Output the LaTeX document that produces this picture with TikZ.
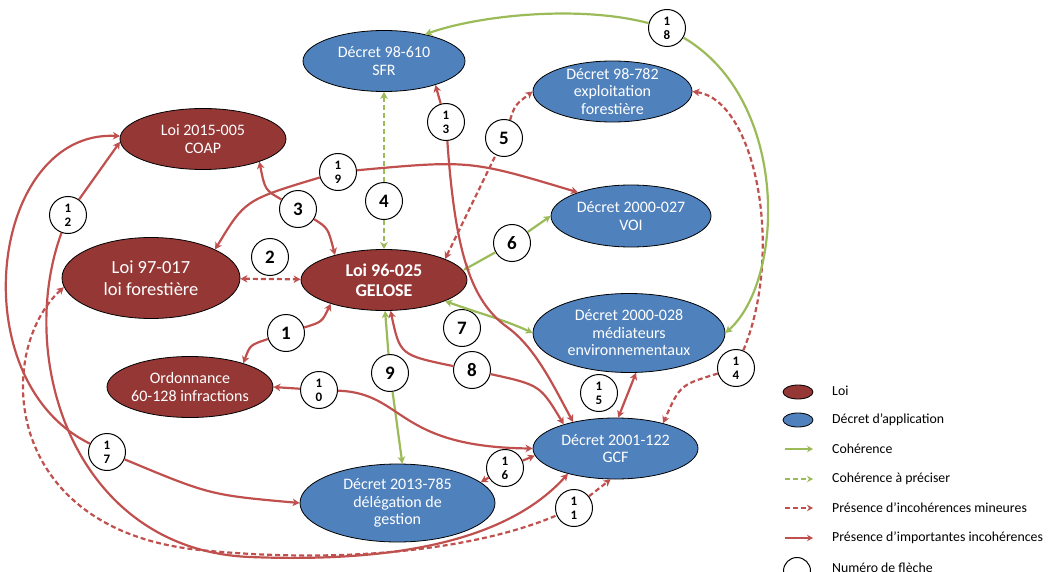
\documentclass[tikz,border=0pt]{standalone}
\usepackage{fontspec}
\setmainfont{Carlito}
\newfontfamily\numfont{Carlito}
\usetikzlibrary{shapes.geometric,arrows.meta}
\definecolor{loired}{RGB}{149,55,53}
\definecolor{decblue}{RGB}{79,129,189}
\definecolor{redline}{RGB}{192,80,77}
\definecolor{greenline}{RGB}{155,187,89}

\begin{document}
\begin{tikzpicture}
  [x=1pt,y=-1pt,
   loi/.style={ellipse,draw=black,line width=0.8pt,fill=loired,text=white,inner xsep=-4pt,inner ysep=-4pt,align=center,font=\fontsize{16}{17.5}\selectfont},
   decret/.style={loi,fill=decblue},
   num/.style={circle,draw=black,line width=1pt,fill=white,minimum size=37pt,inner sep=0pt,align=center,font=\numfont\bfseries\fontsize{19}{19}\selectfont},
   numb/.style={num,font=\numfont\bfseries\fontsize{13}{14}\selectfont},
   link/.style={line width=2.2pt,{Stealth[length=7pt,width=7.5pt,inset=2pt]}-{Stealth[length=7pt,width=7.5pt,inset=2pt]}},
   tipstart/.style={{Stealth[length=7pt,width=7.5pt,inset=2pt]}-},
   tipend/.style={-{Stealth[length=7pt,width=7.5pt,inset=2pt]}},
   onehead/.style={line width=2.2pt,-{Stealth[length=6pt,width=6.5pt,inset=2pt]}},
   coh/.style={link,draw=greenline},
   cohp/.style={coh,dash pattern=on 5pt off 3pt},
   inc/.style={link,draw=redline},
   incm/.style={inc,dash pattern=on 5pt off 3pt},
   legtext/.style={anchor=west,inner sep=0pt,font=\fontsize{13.8}{15}\selectfont}]

  \useasboundingbox (0,0) rectangle (1051,572);

  % lois et decrets
  \node[decret,minimum width=162pt,minimum height=61pt] (sfr) at (384,61) {Décret 98-610\\SFR};
  \node[decret,minimum width=159pt,minimum height=61pt,inner ysep=-7pt] (expl) at (612.5,91.5) {Décret 98-782\\exploitation\\forestière};
  \node[loi,minimum width=166pt,minimum height=61pt] (coap) at (203,139) {Loi 2015-005\\COAP};
  \node[decret,minimum width=160pt,minimum height=62pt] (voi) at (631,216) {Décret 2000-027\\VOI};
  \node[loi,minimum width=178pt,minimum height=81pt,font=\fontsize{18.5}{22}\selectfont] (lf) at (151,278) {Loi 97-017\\loi forestière};
  \node[loi,minimum width=166pt,minimum height=61pt,font=\bfseries\fontsize{18}{20}\selectfont] (gelose) at (384,280) {Loi 96-025\\GELOSE};
  \node[decret,minimum width=192pt,minimum height=79pt] (med) at (629,333) {Décret 2000-028\\médiateurs\\environnementaux};
  \node[loi,minimum width=166pt,minimum height=61pt] (ord) at (190,387) {Ordonnance\\60-128 infractions};
  \node[decret,minimum width=165pt,minimum height=61pt] (gcf) at (615.5,448.5) {Décret 2001-122\\GCF};
  \node[decret,minimum width=195pt,minimum height=78pt] (del) at (397.5,503) {Décret 2013-785\\délégation de\\gestion};

  % numeros de fleche
  \node[num] (n1) at (286,333) {1};
  \node[num] (n2) at (270,257) {2};
  \node[num] (n3) at (298,209) {3};
  \node[num] (n4) at (384,201) {4};
  \node[num] (n5) at (504,138) {5};
  \node[num] (n6) at (512,243) {6};
  \node[num] (n7) at (462,328) {7};
  \node[num] (n8) at (472,370) {8};
  \node[num] (n9) at (390,373) {9};
  \node[numb] (n10) at (319,390) {1\\0};
  \node[numb] (n11) at (574,508) {1\\1};
  \node[numb] (n12) at (68,215) {1\\2};
  \node[numb] (n13) at (446,122) {1\\3};
  \node[numb] (n14) at (736,368) {1\\4};
  \node[numb] (n15) at (599,393) {1\\5};
  \node[numb] (n16) at (505,468) {1\\6};
  \node[numb] (n17) at (107,452) {1\\7};
  \node[numb] (n18) at (667,28) {1\\8};
  \node[numb] (n19) at (338,172) {1\\9};

  % fleches (chaque fleche passe par son numero)
  \draw[inc,tipstart] (ord.24) .. controls (250,345) .. (n1);
  \draw[inc,tipend] (n1) .. controls (322,322) .. (gelose.204);
  \draw[incm] (lf) -- (gelose);
  \draw[inc,tipstart] (coap.-22) .. controls (265,190) .. (n3);
  \draw[inc,tipend] (n3) .. controls (328,228) .. (gelose.153);
  \draw[cohp,tipstart] (sfr) -- (n4);
  \draw[cohp,tipend] (n4) -- (gelose);
  \draw[incm,tipstart] (gelose.19) -- (n5);
  \draw[incm,tipend] (n5) .. controls (515,105) .. (expl.west);
  \draw[coh,tipstart] (gelose.7) -- (n6);
  \draw[coh,tipend] (n6) -- (voi.west);
  \draw[coh] (gelose.-19) .. controls (475,312) and (505,320) .. (med.west);
  \draw[inc,tipstart] (gelose.-78) .. controls (400,355) .. (n8);
  \draw[inc,tipend] (n8) .. controls (540,385) .. (gcf.155);
  \draw[coh,tipstart] (gelose.-88) -- (n9);
  \draw[coh,tipend] (n9) -- (del.83);
  \draw[inc,tipstart] (ord.east) -- (n10);
  \draw[inc,tipend] (n10) .. controls (405,393) and (395,447) .. (gcf.180);
  \draw[incm,tipstart] (lf.186) .. controls (-5,350) and (0,530) .. (200,550) .. controls (350,565) and (480,548) .. (n11);
  \draw[incm,tipend] (n11) -- (gcf.261);
  \draw[inc,tipstart] (coap.182) -- (n12);
  \draw[inc,tipend] (n12) .. controls (15,360) and (75,550) .. (250,557) .. controls (400,563) and (509,539) .. (gcf.208);
  \draw[inc,tipstart] (sfr.-25) -- (n13);
  \draw[inc,tipend] (n13) .. controls (455,250) and (470,300) .. (507,327) .. controls (535,347) and (553,385) .. (gcf.148);
  \draw[incm,tipstart] (expl.east) .. controls (755,100) and (785,250) .. (n14);
  \draw[incm,tipend] (n14) .. controls (680,385) .. (gcf.28);
  \draw[inc] (med.-80) -- (gcf.85);
  \draw[inc,tipstart] (del.14) -- (n16);
  \draw[inc,tipend] (n16) -- (gcf.185);
  \draw[inc,tipstart] (coap.178) .. controls (-10,130) and (-40,380) .. (n17);
  \draw[inc,tipend] (n17) .. controls (210,495) .. (del.west);
  \draw[coh,tipstart] (sfr.33) .. controls (480,15) and (580,5) .. (n18);
  \draw[coh,tipend] (n18) .. controls (790,100) and (785,280) .. (med.east);
  \draw[inc,tipstart] (lf.24) .. controls (245,200) .. (n19);
  \draw[inc,tipend] (n19) .. controls (470,160) .. (voi.156);

  % legende
  \node[loi,minimum width=30pt,minimum height=14pt] (kloi) at (798,392) {};
  \node[decret,minimum width=30pt,minimum height=14pt] (kdec) at (798,420) {};
  \coordinate (ka1) at (785,449);
  \coordinate (kb1) at (813,449);
  \coordinate (ka2) at (785,479);
  \coordinate (kb2) at (813,479);
  \coordinate (ka3) at (785,508);
  \coordinate (kb3) at (813,508);
  \coordinate (ka4) at (785,538);
  \coordinate (kb4) at (813,538);
  \draw[coh,onehead] (ka1) -- (kb1);
  \draw[cohp,onehead] (ka2) -- (kb2);
  \draw[incm,onehead] (ka3) -- (kb3);
  \draw[inc,onehead] (ka4) -- (kb4);
  \node[num,minimum size=27pt] (knum) at (797,571) {};

  \node[legtext] (tloi) at (832,391) {Loi};
  \node[legtext] (tdec) at (832,420) {Décret d'application};
  \node[legtext] (tcoh) at (832,449) {Cohérence};
  \node[legtext] (tcohp) at (832,479) {Cohérence à préciser};
  \node[legtext] (tincm) at (832,508) {Présence d'incohérences mineures};
  \node[legtext] (tinc) at (832,538) {Présence d'importantes incohérences};
  \node[legtext] (tnum) at (832,568) {Numéro de flèche};
\end{tikzpicture}
\end{document}
